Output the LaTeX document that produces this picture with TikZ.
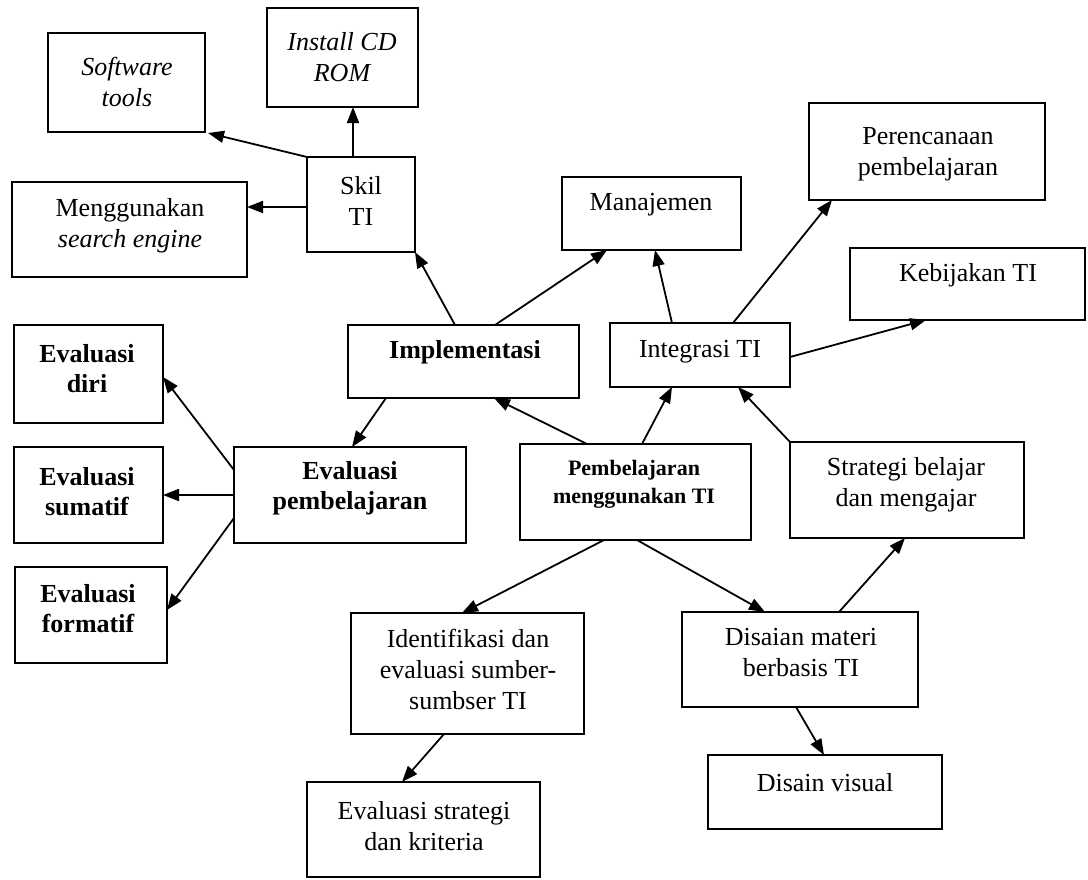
\documentclass[tikz,border=0pt]{standalone}
\usepackage{fontspec}
\setmainfont{Liberation Serif}
\usetikzlibrary{arrows.meta}
\tikzset{
  box/.style={draw, line width=2.4pt, inner sep=0pt, outer sep=0pt},
  txt/.style={align=center, inner sep=0pt, font=\fontsize{26}{31}\selectfont},
  btxt/.style={align=center, inner sep=0pt, font=\fontsize{26}{30}\selectfont\bfseries},
  arr/.style={line width=1.8pt, -{Triangle[length=16pt,width=12pt]}}
}
\begin{document}
\begin{tikzpicture}[x=1pt,y=-1pt]
\useasboundingbox[fill=white] (0,0) rectangle (1088,879);
% boxes
\node[box, minimum width=157pt, minimum height=99pt] (soft) at (126.5,82.5) {};
\node[box, minimum width=151pt, minimum height=99pt] (inst) at (342.5,57.5) {};
\node[box, minimum width=108pt, minimum height=95pt] (skil) at (361,204.5) {};
\node[box, minimum width=235pt, minimum height=95pt] (meng) at (129.5,229.5) {};
\node[box, minimum width=179pt, minimum height=73pt] (manaj) at (651.5,213.5) {};
\node[box, minimum width=236pt, minimum height=97pt] (peren) at (927,151.5) {};
\node[box, minimum width=235pt, minimum height=72pt] (kebij) at (967.5,284) {};
\node[box, minimum width=180pt, minimum height=64pt] (integ) at (700,355) {};
\node[box, minimum width=231pt, minimum height=73pt] (impl) at (463.5,361.5) {};
\node[box, minimum width=149pt, minimum height=98pt] (diri) at (88.5,374) {};
\node[box, minimum width=149pt, minimum height=96pt] (sumatif) at (88.5,495) {};
\node[box, minimum width=152pt, minimum height=96pt] (formatif) at (91,615) {};
\node[box, minimum width=232pt, minimum height=96pt] (evpemb) at (350,495) {};
\node[box, minimum width=231pt, minimum height=96pt] (pemb) at (635.5,492) {};
\node[box, minimum width=234pt, minimum height=96pt] (strat) at (907,490) {};
\node[box, minimum width=233pt, minimum height=121pt] (ident) at (467.5,673.5) {};
\node[box, minimum width=236pt, minimum height=95pt] (disaian) at (800,659.5) {};
\node[box, minimum width=234pt, minimum height=74pt] (visual) at (825,792) {};
\node[box, minimum width=233pt, minimum height=95pt] (evstrat) at (423.5,829.5) {};
% texts
\node[txt] (tsoft) at (127,82) {\itshape Software\\\itshape tools};
\node[txt] (tinst) at (342,57) {\itshape Install CD\\\itshape ROM};
\node[txt] (tskil) at (361,201) {Skil\\TI};
\node[txt] (tmeng) at (130,226) {Menggunakan\\\textit{search engine}};
\node[txt] (tmanaj) at (651,205) {Manajemen};
\node[txt] (tperen) at (928,154) {Perencanaan\\pembelajaran};
\node[txt] (tkebij) at (968,275) {Kebijakan TI};
\node[txt] (tinteg) at (700,352) {Integrasi TI};
\node[btxt] (timpl) at (465,352) {Implementasi};
\node[btxt] (tdiri) at (87,369) {Evaluasi\\diri};
\node[btxt] (tsumatif) at (87,492) {Evaluasi\\sumatif};
\node[btxt] (tformatif) at (88,609) {Evaluasi\\formatif};
\node[btxt] (tevpemb) at (350,488) {Evaluasi\\pembelajaran};
\node[align=center, inner sep=0pt, font=\fontsize{22}{28}\selectfont\bfseries] (tpemb) at (634,484) {Pembelajaran\\menggunakan TI};
\node[txt] (tstrat) at (906,485) {Strategi belajar\\dan mengajar};
\node[txt] (tident) at (468,669) {Identifikasi dan\\evaluasi sumber-\\sumbser TI};
\node[txt] (tdisaian) at (801,653) {Disaian materi\\berbasis TI};
\node[txt] (tvisual) at (825,783) {Disain visual};
\node[txt] (tevstrat) at (424,826) {Evaluasi strategi\\dan kriteria};
% connectors
\draw[arr] (skil.north west) -- ([xshift=3pt,yshift=-1pt]soft.south east);
\draw[arr] ([xshift=46pt]skil.north west) -- ([xshift=46pt]skil.north west |- inst.south);
\draw[arr] ([yshift=-50pt]skil.north west) -- ([yshift=-50pt]skil.north west -| meng.east);
\draw[arr] ([xshift=107pt]impl.north west) -- (skil.south east);
\draw[arr] ([xshift=147pt]impl.north west) -- ([xshift=45pt]manaj.south west);
\draw[arr] ([xshift=38pt]impl.south west) -- ([xshift=118pt]evpemb.north west);
\draw[arr] ([yshift=-23pt]evpemb.north west) -- ([yshift=-52pt]diri.north east);
\draw[arr] (evpemb.west) -- (sumatif.east);
\draw[arr] ([yshift=-71pt]evpemb.north west) -- ([yshift=-43pt]formatif.north east);
\draw[arr] ([xshift=62pt]integ.north west) -- ([xshift=93pt]manaj.south west);
\draw[arr] ([xshift=123pt]integ.north west) -- ([xshift=23pt]peren.south west);
\draw[arr] ([yshift=-34pt]integ.north east) -- ([xshift=76pt]kebij.south west);
\draw[arr] ([xshift=67pt]pemb.north west) -- ([xshift=146pt]impl.south west);
\draw[arr] ([xshift=122pt]pemb.north west) -- ([xshift=62pt]integ.south west);
\draw[arr] (strat.north west) -- ([xshift=128pt]integ.south west);
\draw[arr] ([xshift=84pt]pemb.south west) -- ([xshift=111pt]ident.north west);
\draw[arr] ([xshift=117pt]pemb.south west) -- ([xshift=83pt]disaian.north west);
\draw[arr] ([xshift=157pt]disaian.north west) -- ([xshift=115pt]strat.south west);
\draw[arr] ([xshift=93pt]ident.south west) -- ([xshift=95pt]evstrat.north west);
\draw[arr] ([xshift=114pt]disaian.south west) -- ([xshift=116pt]visual.north west);
\end{tikzpicture}
\end{document}
